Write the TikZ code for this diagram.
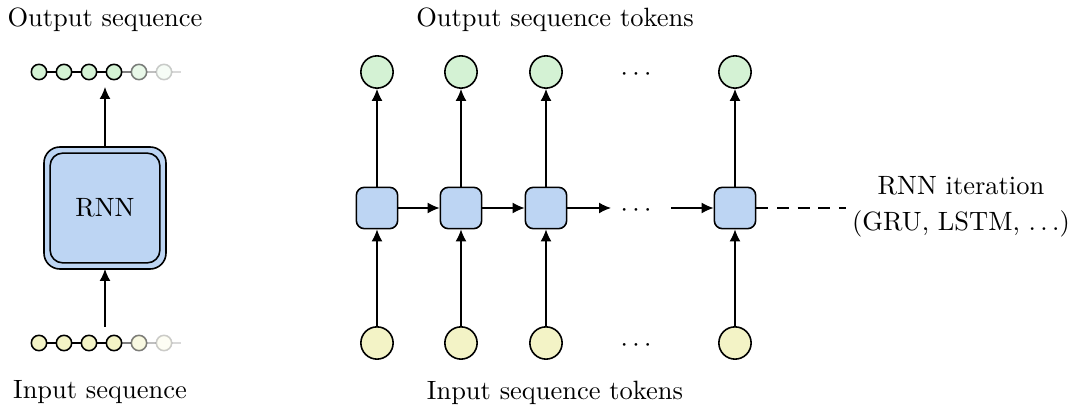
\documentclass[tikz,border=0pt]{standalone}
\usetikzlibrary{arrows.meta}
\definecolor{tokgreen}{RGB}{212,242,212}
\definecolor{tokyellow}{RGB}{243,243,198}
\definecolor{cellblue}{RGB}{189,213,243}
\begin{document}
\begin{tikzpicture}[x=0.378pt,y=-0.378pt,
  every node/.style={inner sep=0pt},
  arr/.style={-{Latex[length=4.5pt,width=4.1pt]},line width=0.5pt},
  tok/.style={circle,draw,line width=0.6pt,minimum size=12.2pt},
  tiny/.style={circle,draw,line width=0.6pt,minimum size=5.8pt},
  cell/.style={draw,line width=0.6pt,fill=cellblue,rounded corners=3pt,minimum size=15.6pt},
  lbl/.style={font=\normalsize}]
\useasboundingbox (0,0) rectangle (1073,410);

% ---- compact view ----
\node[lbl] (outseq) at (105,20) {Output sequence};
\node[lbl] (inseq) at (100,392) {Input sequence};

\draw[line width=0.6pt,fill=cellblue,rounded corners=6pt] (44,147) rectangle (166,269);
\node[draw,line width=0.6pt,fill=cellblue,rounded corners=4.8pt,minimum width=41.5pt,minimum height=41.5pt] (rnn) at (105,208) {};
\node[lbl] (rnnlbl) at (105,208) {RNN};
\coordinate (rnntop) at (105,147);
\coordinate (rnnbot) at (105,269);

% sequence chains, fading out towards the right
\foreach \i/\x/\o in {1/39/1,2/64/1,3/89/1,4/114/1,5/139/0.5,6/164/0.2}{
  \node[tiny,fill=tokgreen,draw opacity=\o,fill opacity=\o] (o\i) at (\x,72) {};
  \node[tiny,fill=tokyellow,draw opacity=\o,fill opacity=\o] (i\i) at (\x,343) {};
}
\foreach \a/\b in {1/2,2/3,3/4}{
  \draw[line width=0.6pt] (o\a) -- (o\b);
  \draw[line width=0.6pt] (i\a) -- (i\b);
}
\draw[line width=0.6pt,draw opacity=0.5] (o4) -- (o5);
\draw[line width=0.6pt,draw opacity=0.5] (i4) -- (i5);
\draw[line width=0.6pt,draw opacity=0.25] (o5) -- (o6);
\draw[line width=0.6pt,draw opacity=0.25] (i5) -- (i6);
\coordinate (oend) at (181,72);
\coordinate (iend) at (181,343);
\draw[line width=0.6pt,draw opacity=0.15] (o6) -- (oend);
\draw[line width=0.6pt,draw opacity=0.15] (i6) -- (iend);

\coordinate (outarr) at (105,87);
\coordinate (inarr) at (105,327);
\draw[arr] (rnntop) -- (outarr);
\draw[arr] (inarr) -- (rnnbot);

% ---- unrolled view ----
\node[lbl] (outtok) at (555,20) {Output sequence tokens};
\node[lbl] (intok) at (555,393) {Input sequence tokens};

\foreach \i/\x in {1/377,2/461,3/546,4/735}{
  \node[tok,fill=tokgreen] (y\i) at (\x,72) {};
  \node[cell] (h\i) at (\x,208) {};
  \node[tok,fill=tokyellow] (x\i) at (\x,343) {};
  \draw[arr] (x\i) -- (h\i);
  \draw[arr] (h\i) -- (y\i);
}
\node[lbl] (ydots) at (636,75) {$\cdots$};
\node[lbl] (hdots) at (636,211) {$\cdots$};
\node[lbl] (xdots) at (636,346) {$\cdots$};

\draw[arr] (h1) -- (h2);
\draw[arr] (h2) -- (h3);
\coordinate (h3end) at (611,208);
\coordinate (h4start) at (671,208);
\draw[arr] (h3) -- (h3end);
\draw[arr] (h4start) -- (h4);

\node[lbl,align=center] (iter) at (961,207) {RNN iteration\\[1.5pt](GRU, LSTM, $\ldots$)};
\coordinate (dashend) at (846,208);
\draw[line width=0.5pt,dash pattern=on 4.5pt off 3.3pt] (h4) -- (dashend);
\end{tikzpicture}
\end{document}
